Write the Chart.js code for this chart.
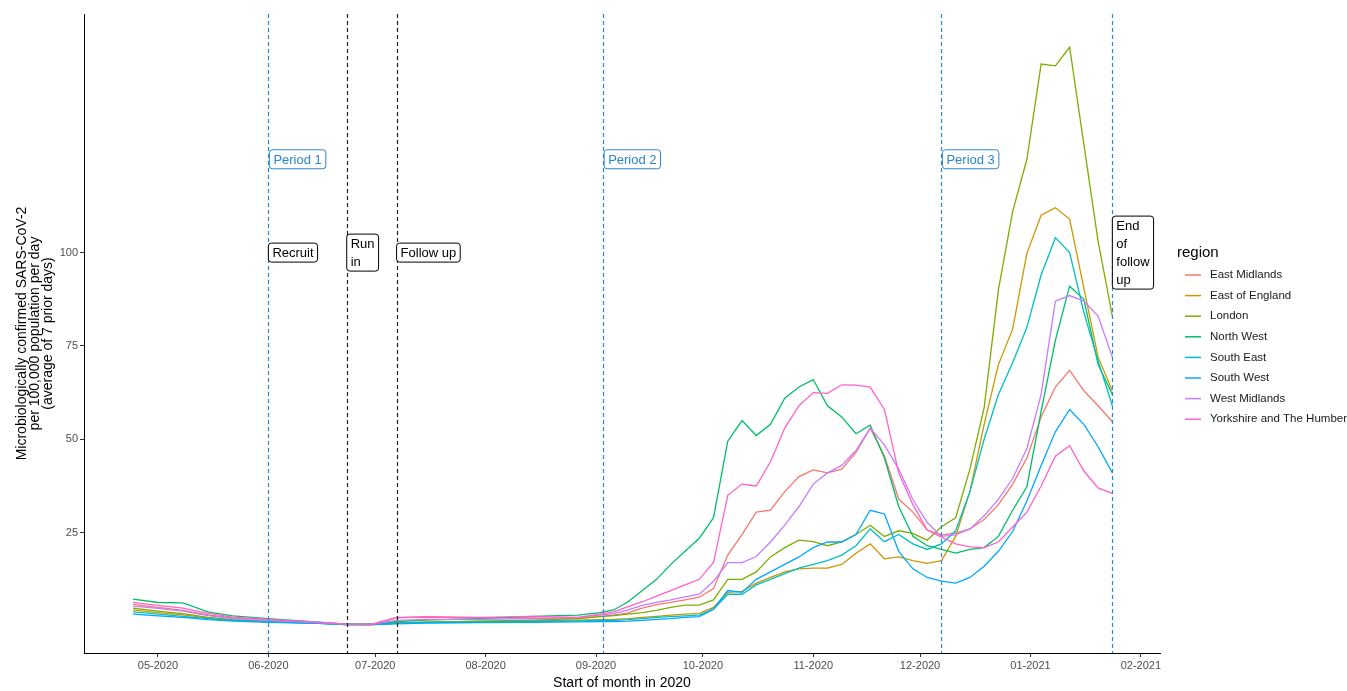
<!DOCTYPE html>
<html>
<head>
<meta charset="utf-8">
<script src="https://cdn.jsdelivr.net/npm/chart.js@4.4.0/dist/chart.umd.min.js"></script>
<style>
  html, body { margin: 0; padding: 0; background: #fff; }
</style>
</head>
<body>
<canvas id="regionChart" width="1347" height="691"></canvas>
<script>
// days since 1 May 2020
const days = [-7, 0, 7, 14, 21, 31, 45, 53, 60, 67, 75, 90, 105, 118, 124,
  128, 132, 136, 140, 144, 148, 152, 156, 160, 164, 168, 172, 176, 180, 184, 188,
  192, 196, 200, 204, 208, 212, 216, 220, 224, 228, 232, 236, 240, 244, 248, 252,
  256, 260, 264, 268];

const eastMidlands = [5.8, 5.0, 4.2, 3.0, 2.2, 1.6, 0.9, 0.5, 0.5, 2.3, 2.4, 2.2, 2.2, 2.0, 2.6,
  2.9, 3.5, 4.8, 5.7, 6.3, 7, 7.7, 10, 19, 24.5, 30.5, 31, 36, 40, 41.8, 41,
  42, 46.5, 53, 45.5, 34, 30.5, 25.7, 24.4, 24.9, 26, 28.5, 32.5, 38, 45, 56, 64,
  68.5, 63, 59, 54.7];
const eastOfEngland = [4.3, 3.6, 3.0, 2.2, 1.6, 1.2, 0.8, 0.4, 0.4, 0.8, 1.0, 1.2, 1.4, 1.6, 1.7,
  1.8, 2, 2.3, 2.6, 2.9, 3.2, 3.4, 5, 9, 9.3, 11.5, 13, 14.5, 15.3, 15.5, 15.5,
  16.5, 19.5, 22, 18, 18.5, 17.5, 16.8, 17.5, 24, 36, 54, 70, 79.5, 99.8, 110, 112,
  109, 90.5, 72, 63];
const london = [4.8, 4.0, 3.3, 2.3, 1.7, 1.2, 0.8, 0.4, 0.4, 0.8, 1.0, 1.3, 1.6, 2.0, 2.5,
  2.8, 3.2, 3.6, 4.2, 5, 5.6, 5.6, 7, 12.5, 12.5, 14.5, 18.5, 21, 23, 22.6, 21.5,
  22.5, 24.5, 27, 24, 25.5, 24.8, 23, 26.6, 29, 42, 58.5, 90, 111, 125, 150.5, 150,
  155, 129, 103, 83];
const northWest = [7.2, 6.3, 6.2, 3.8, 2.7, 2.0, 1.0, 0.5, 0.5, 1.2, 1.6, 2.0, 2.6, 2.9, 3.6,
  4.3, 6.5, 9.5, 12.5, 16.5, 20, 23.5, 29, 49.5, 55, 51, 54, 61, 64, 66, 59,
  56, 51.5, 53.8, 45, 32, 24, 21.5, 20.5, 19.5, 20.5, 21, 24, 31, 37.3, 57.5, 76.5,
  91, 87.5, 70, 62];
const southEast = [3.8, 3.2, 2.6, 2.0, 1.5, 1.1, 0.7, 0.4, 0.4, 0.7, 0.9, 1.0, 1.2, 1.4, 1.5,
  1.5, 1.7, 2, 2.3, 2.5, 2.7, 2.9, 4.5, 8.5, 8.5, 11, 12.5, 14, 15.5, 16.5, 17.5,
  19, 21.5, 26, 22.6, 24.5, 22, 20.5, 22, 25.5, 36, 50, 62, 70.5, 80, 94, 104,
  100, 84, 71, 59];
const southWest = [3.2, 2.7, 2.3, 1.7, 1.3, 1.0, 0.7, 0.4, 0.4, 0.6, 0.8, 0.9, 1.0, 1.1, 1.2,
  1.2, 1.3, 1.5, 1.8, 2, 2.3, 2.5, 4.5, 9.5, 9, 12.5, 14.5, 16.5, 18.5, 21, 22.5,
  22.5, 24.5, 31, 30, 20, 15.3, 13, 12, 11.5, 13, 16, 20, 25.3, 33.5, 43, 52,
  58, 54, 48, 41];
const westMidlands = [5.3, 4.7, 4.0, 2.8, 2.0, 1.5, 0.9, 0.5, 0.5, 1.5, 1.8, 1.8, 2.0, 2.3, 2.9,
  3.3, 4.3, 5.5, 6.3, 7, 7.8, 8.5, 12, 17, 17, 18.6, 22.5, 27, 32, 38, 41,
  43, 47, 53, 48.5, 42, 33.8, 27.7, 24, 24.4, 26, 29.5, 34, 39.5, 47.5, 62, 87,
  88.5, 87, 83, 72];
const yorkshire = [6.3, 5.5, 4.8, 3.4, 2.4, 1.8, 1.0, 0.5, 0.4, 2.2, 2.5, 2.3, 2.6, 2.3, 3.2,
  3.8, 5.2, 6.5, 8, 9.5, 11, 12.5, 17, 35, 38, 37.5, 44, 53, 59, 62.5, 62.3,
  64.6, 64.5, 64, 58, 41, 32.5, 25.7, 23.8, 22, 21.2, 21, 22.5, 26.5, 30.5, 37.5, 45.5,
  48.3, 41.5, 37, 35.5];

const regionNames = ['East Midlands', 'East of England', 'London', 'North West',
  'South East', 'South West', 'West Midlands', 'Yorkshire and The Humber'];
const regionValues = [eastMidlands, eastOfEngland, london, northWest,
  southEast, southWest, westMidlands, yorkshire];
const regionColors = ['#F8766D', '#CD9600', '#7CAE00', '#00BE67',
  '#00BFC4', '#00A9FF', '#C77CFF', '#FF61CC'];

const monthTicks = [0, 31, 61, 92, 123, 153, 184, 214, 245, 276];
const monthLabels = ['05-2020', '06-2020', '07-2020', '08-2020', '09-2020',
  '10-2020', '11-2020', '12-2020', '01-2021', '02-2021'];
const yTicks = [25, 50, 75, 100];

// study periods (blue) and phases (black)
const periodDays = [31, 125, 220, 268];
const periodLabels = [['Period 1'], ['Period 2'], ['Period 3'], null];
const phaseDays = [31, 53, 67, 268];
const phaseLabels = [['Recruit'], ['Run', 'in'], ['Follow up'], ['End', 'of', 'follow', 'up']];

const BLUE = '#2b87cf';
const FONT = '"Liberation Sans", Arial, sans-serif';

function drawBox(ctx, left, cy, lines, color) {
    ctx.font = '13px ' + FONT;
    const lineH = 18;
    const padX = 4;
    const w = Math.max(...lines.map(t => ctx.measureText(t).width)) + padX * 2;
    const h = lines.length * lineH + 1;
    const top = cy - h / 2;
    ctx.beginPath();
    ctx.roundRect(left, top, w, h, 3);
    ctx.fillStyle = '#fff';
    ctx.fill();
    ctx.lineWidth = 1;
    ctx.strokeStyle = color;
    ctx.stroke();
    ctx.fillStyle = color === BLUE ? BLUE : '#000';
    ctx.textAlign = 'left';
    ctx.textBaseline = 'middle';
    lines.forEach((t, k) => {
        ctx.fillText(t, left + padX, top + 0.5 + lineH * (k + 0.5) + 1);
    });
}

const overlay = {
    id: 'overlay',
    afterDatasetsDraw(chart) {
        const { ctx, chartArea: a, scales: { x, y } } = chart;
        ctx.save();
        ctx.lineWidth = 1.2;
        ctx.setLineDash([4, 3]);
        periodDays.forEach(d => {
            const px = Math.round(x.getPixelForValue(d)) + 0.5;
            ctx.strokeStyle = BLUE;
            ctx.beginPath();
            ctx.moveTo(px, a.top);
            ctx.lineTo(px, a.bottom);
            ctx.stroke();
        });
        phaseDays.slice(1, 3).forEach(d => {
            const px = Math.round(x.getPixelForValue(d)) + 0.5;
            ctx.strokeStyle = '#222';
            ctx.beginPath();
            ctx.moveTo(px, a.top);
            ctx.lineTo(px, a.bottom);
            ctx.stroke();
        });
        ctx.setLineDash([]);

        periodDays.forEach((d, i) => {
            if (!periodLabels[i]) return;
            drawBox(ctx, x.getPixelForValue(d) + 1, y.getPixelForValue(125), periodLabels[i], BLUE);
        });
        phaseDays.forEach((d, i) => {
            drawBox(ctx, x.getPixelForValue(d), y.getPixelForValue(100), phaseLabels[i], '#000');
        });
        ctx.restore();
    },
    afterDraw(chart) {
        const { ctx, chartArea: a } = chart;
        ctx.save();
        ctx.fillStyle = '#000';
        // axis titles
        ctx.font = '14px ' + FONT;
        ctx.textAlign = 'center';
        ctx.textBaseline = 'middle';
        ctx.fillText('Start of month in 2020', (a.left + a.right) / 2, 683);
        const yTitle = ['Microbiologically confirmed SARS-CoV-2',
            'per 100,000 population per day', '(average of 7 prior days)'];
        const cy = (a.top + a.bottom) / 2;
        yTitle.forEach((t, k) => {
            ctx.save();
            ctx.translate(22 + k * 13.3, cy);
            ctx.rotate(-Math.PI / 2);
            ctx.fillText(t, 0, 0);
            ctx.restore();
        });
        // legend
        ctx.textAlign = 'left';
        ctx.font = '15px ' + FONT;
        ctx.fillText('region', 1177, 253);
        ctx.font = '11.5px ' + FONT;
        regionNames.forEach((name, i) => {
            const ly = 275 + i * 20.6;
            ctx.strokeStyle = regionColors[i];
            ctx.lineWidth = 1.5;
            ctx.beginPath();
            ctx.moveTo(1185, ly);
            ctx.lineTo(1201, ly);
            ctx.stroke();
            ctx.fillStyle = '#1a1a1a';
            ctx.fillText(name, 1210, ly);
        });
        ctx.restore();
    }
};

new Chart(document.getElementById('regionChart'), {
    type: 'line',
    data: {
        datasets: regionNames.map((name, i) => ({
            label: name,
            data: days.map((d, k) => ({ x: d, y: regionValues[i][k] })),
            borderColor: regionColors[i],
            borderWidth: 1.3,
            pointRadius: 0,
            tension: 0,
            fill: false,
            order: regionNames.length - i
        }))
    },
    options: {
        responsive: false,
        animation: false,
        layout: { padding: { left: 0, right: 187, top: 14, bottom: 0 } },
        plugins: { legend: { display: false }, tooltip: { enabled: false } },
        scales: {
            x: {
                type: 'linear',
                min: -20.78,
                max: 281.38,
                afterBuildTicks: s => { s.ticks = monthTicks.map(v => ({ value: v })); },
                afterFit: s => { s.height = 38; },
                ticks: {
                    autoSkip: false,
                    maxRotation: 0,
                    padding: 2,
                    color: '#4d4d4d',
                    font: { family: FONT, size: 11 },
                    callback: v => monthLabels[monthTicks.indexOf(v)]
                },
                grid: { display: true, drawOnChartArea: false, tickLength: 4, color: '#333' },
                border: { display: true, color: '#000', width: 1 }
            },
            y: {
                type: 'linear',
                min: -7.23,
                max: 163.9,
                afterBuildTicks: s => { s.ticks = yTicks.map(v => ({ value: v })); },
                afterFit: s => { s.width = 84; },
                ticks: {
                    padding: 2,
                    color: '#4d4d4d',
                    font: { family: FONT, size: 11 }
                },
                grid: { display: true, drawOnChartArea: false, tickLength: 4, color: '#333' },
                border: { display: true, color: '#000', width: 1 }
            }
        }
    },
    plugins: [overlay]
});
</script>
</body>
</html>
